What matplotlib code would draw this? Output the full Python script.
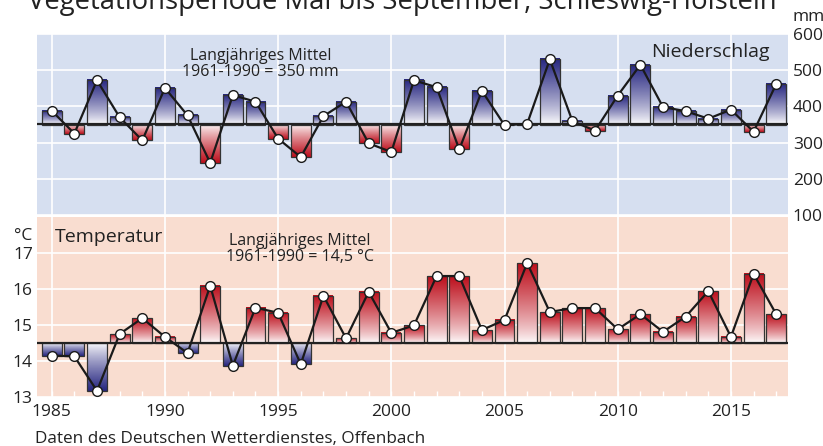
import numpy as np
import matplotlib
matplotlib.use("Agg")
import matplotlib.pyplot as plt
from matplotlib.colors import LinearSegmentedColormap
from matplotlib.ticker import MultipleLocator

# data
years = list(range(1985, 2018))
precip = [388, 325, 472, 370, 306, 451, 375, 244, 431, 413, 311, 260, 373, 413, 298, 274, 472,
          453, 281, 443, 348, 352, 530, 359, 333, 430, 515, 398, 387, 366, 391, 330, 462]
temp = [14.15, 14.13, 13.17, 14.75, 15.19, 14.67, 14.22, 16.09, 13.87, 15.48, 15.34, 13.91, 15.81,
        14.63, 15.92, 14.78, 14.99, 16.36, 16.36, 14.86, 15.14, 16.72, 15.36, 15.47, 15.47, 14.88,
        15.30, 14.81, 15.23, 15.94, 14.67, 16.42, 15.30]
precip_mean = 350
temp_mean = 14.5
precip_ticks = [100, 200, 300, 400, 500, 600]
temp_ticks = [13, 14, 15, 16, 17]

plt.rcParams['font.family'] = ['Open Sans', 'DejaVu Sans']
TXT = '#222222'
NAVY = '#262680'
RED = '#bd0f1c'
blue_cm = LinearSegmentedColormap.from_list('b', ['#ffffff', NAVY])
red_cm = LinearSegmentedColormap.from_list('r', ['#ffffff', RED])
grad = np.linspace(0, 1, 128).reshape(-1, 1) ** 0.8

fig = plt.figure(figsize=(8.23, 4.46), dpi=100)
W, H = 823, 446
x0, x1 = 37, 788
ax_p = fig.add_axes([x0 / W, 1 - 215 / H, (x1 - x0) / W, 181 / H])
ax_t = fig.add_axes([x0 / W, 1 - 397 / H, (x1 - x0) / W, 180 / H])

xlim = (1984.35, 2017.52)
bw = 0.88


def draw_panel(ax, vals, base, up_cm, down_cm, ylim, bg):
    ax.set_facecolor(bg)
    for y, v in zip(years, vals):
        cm = up_cm if v >= base else down_cm
        ax.imshow(grad, cmap=cm, origin='lower', aspect='auto', interpolation='bilinear',
                  extent=(y - bw / 2, y + bw / 2, base, v), zorder=2)
    ax.bar(years, np.array(vals) - base, bottom=base, width=bw, fill=False,
           edgecolor='#333333', linewidth=0.9, zorder=3)
    ax.axhline(base, color='#222222', lw=1.6, zorder=4)
    ax.plot(years, vals, color='#1a1a1a', lw=1.6, zorder=5,
            marker='o', ms=7, mfc='white', mec='#1a1a1a', mew=1.0)
    ax.set_xlim(*xlim)
    ax.set_ylim(*ylim)
    ax.xaxis.set_major_locator(MultipleLocator(5))
    ax.grid(True, color='white', lw=1.2, zorder=1)
    ax.set_axisbelow(True)
    for s in ax.spines.values():
        s.set_visible(False)


draw_panel(ax_p, precip, precip_mean, blue_cm, red_cm, (100, 600), '#d6dff0')
draw_panel(ax_t, temp, temp_mean, red_cm, blue_cm, (13, 18), '#f9ddd0')

# precipitation axis on the right
ax_p.set_yticks(precip_ticks)
ax_p.yaxis.tick_right()
ax_p.tick_params(axis='y', length=0, pad=3.5, labelsize=12.5, labelcolor=TXT)
ax_p.tick_params(axis='x', length=0, labelbottom=False)
ax_p.text(1.006, 1.094, 'mm', transform=ax_p.transAxes, fontsize=12.5, color=TXT,
          ha='left', va='center')

# temperature axis on the left
ax_t.set_yticks(temp_ticks)
ax_t.tick_params(axis='y', length=0, pad=3, labelsize=12.5, labelcolor=TXT)
ax_t.xaxis.set_minor_locator(MultipleLocator(1))
ax_t.tick_params(axis='x', which='both', direction='in', color='white', length=4, width=1,
                 labelsize=12.5, labelcolor=TXT, pad=5)
ax_t.text(-0.006, 17.26, '°C', transform=ax_t.get_yaxis_transform(), fontsize=12.5,
          color=TXT, ha='right', va='bottom')

ax_p.text(0.298, 0.834, 'Langjähriges Mittel\n1961-1990 = 350 mm', transform=ax_p.transAxes,
          ha='center', va='center', fontsize=11.5, color=TXT, linespacing=1.05)
ax_p.text(0.975, 0.9, 'Niederschlag', transform=ax_p.transAxes, ha='right', va='center',
          fontsize=14, color=TXT)
ax_t.text(0.024, 0.888, 'Temperatur', transform=ax_t.transAxes, ha='left', va='center',
          fontsize=14, color=TXT)
ax_t.text(0.35, 0.822, 'Langjähriges Mittel\n1961-1990 = 14,5 °C', transform=ax_t.transAxes,
          ha='center', va='center', fontsize=11.5, color=TXT, linespacing=1.05)

fig.text(0.489, 1 - 9.5 / H, 'Vegetationsperiode Mai bis September, Schleswig-Holstein',
         ha='center', va='baseline', fontsize=19.8, color=TXT)
fig.text(35 / W, 1 - 443 / H, 'Daten des Deutschen Wetterdienstes, Offenbach',
         ha='left', va='baseline', fontsize=12.3, color=TXT)

fig.savefig('out.png', dpi=100)
